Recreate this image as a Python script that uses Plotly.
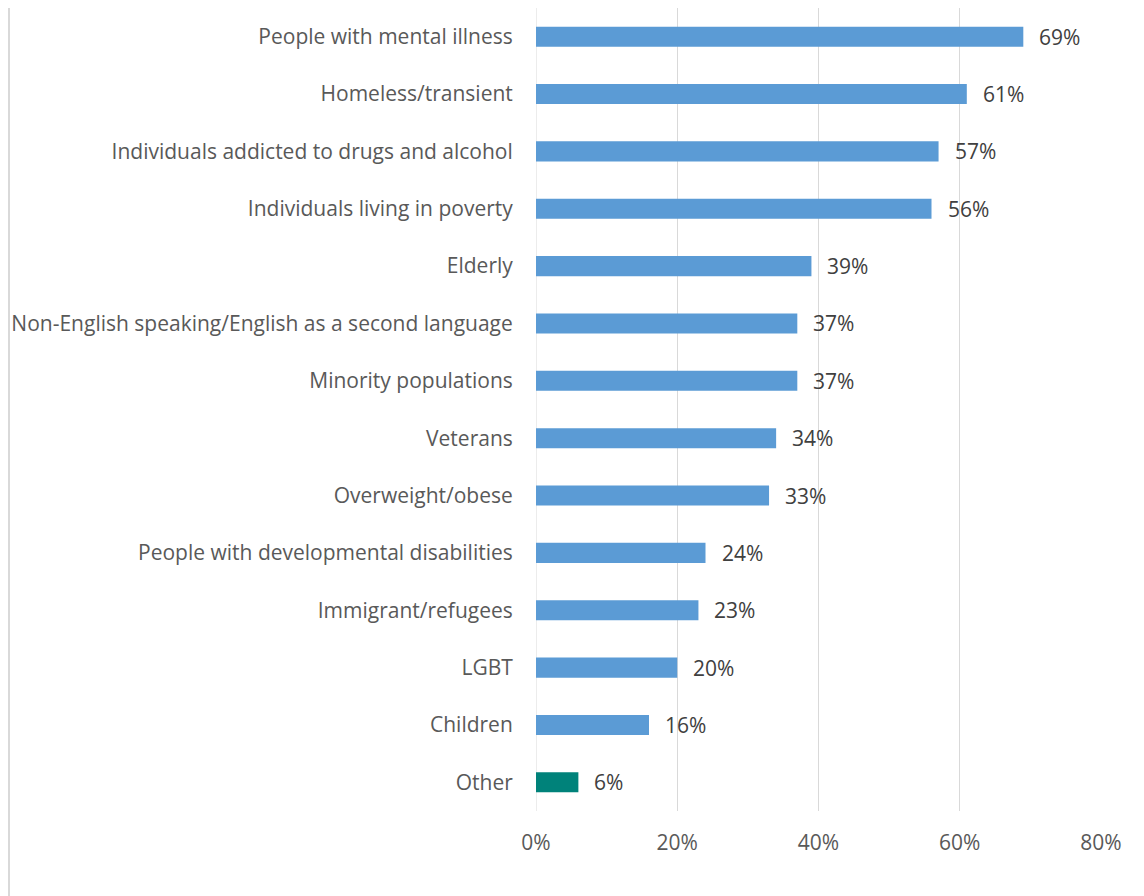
import plotly.graph_objects as go

categories = [
    "People with mental illness",
    "Homeless/transient",
    "Individuals addicted to drugs and alcohol",
    "Individuals living in poverty",
    "Elderly",
    "Non-English speaking/English as a second language",
    "Minority populations",
    "Veterans",
    "Overweight/obese",
    "People with developmental disabilities",
    "Immigrant/refugees",
    "LGBT",
    "Children",
    "Other",
]
values = [0.69, 0.61, 0.57, 0.56, 0.39, 0.37, 0.37, 0.34, 0.33, 0.24, 0.23, 0.20, 0.16, 0.06]
tick_vals = [0, 0.2, 0.4, 0.6, 0.8]
tick_text = ["0%", "20%", "40%", "60%", "80%"]

colors = ["#5B9BD5"] * (len(categories) - 1) + ["#00827A"]

fig = go.Figure()
fig.add_trace(go.Bar(
    x=values, y=categories, orientation="h",
    marker=dict(color=colors, line=dict(width=0)),
    hoverinfo="skip",
))

for c, v in zip(categories, values):
    fig.add_annotation(
        x=v, y=c, text=f"{round(v*100)}%", showarrow=False,
        xanchor="left", xshift=14, font=dict(size=21, color="#404040"),
    )

# page body has an 8px margin; figure drawn from (8, 8)
W, H = 1136, 888
L, R, T, B = 528, 43, 0, 85
pw = W - L - R
ph = H - T - B
xb = (1 - L) / pw
fig.add_shape(type="line", xref="paper", yref="paper",
              x0=xb, x1=xb, y0=-B / ph, y1=1 + T / ph,
              line=dict(color="#D9D9D9", width=2))

fig.update_layout(
    width=W, height=H, autosize=False,
    margin=dict(l=L, r=R, t=T, b=B),
    paper_bgcolor="white", plot_bgcolor="white",
    font=dict(family="Open Sans", size=21, color="#595959"),
    bargap=0.65, showlegend=False,
    xaxis=dict(
        range=[0, 0.8], tickvals=tick_vals, ticktext=tick_text,
        showgrid=True, gridcolor="#D9D9D9", gridwidth=1,
        zeroline=False, showline=False,
        ticks="outside", ticklen=13, tickcolor="rgba(0,0,0,0)",
        tickfont=dict(size=21, color="#595959"),
    ),
    yaxis=dict(
        categoryorder="array", categoryarray=categories[::-1],
        showgrid=False, zeroline=False, showline=False,
        ticks="outside", ticklen=18, tickcolor="rgba(0,0,0,0)",
        tickfont=dict(size=21, color="#595959"),
    ),
)
fig.add_vline(x=0, line=dict(color="#D9D9D9", width=1), layer="below")

fig.write_html("out.html")
